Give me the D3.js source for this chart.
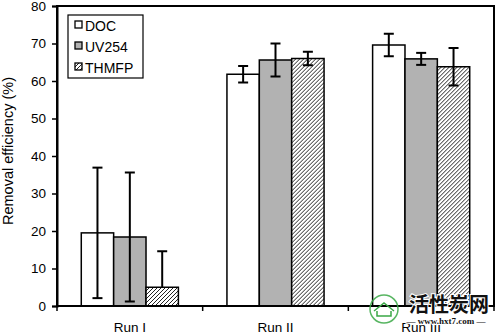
<!DOCTYPE html>
<html>
<head>
<meta charset="utf-8">
<script src="https://cdn.jsdelivr.net/npm/d3@7"></script>
<style>
  body { margin: 0; background: #fff; }
  svg { display: block; font-family: Arial, "Liberation Sans", sans-serif; }
</style>
</head>
<body>
<svg id="chart" width="497" height="333"></svg>
<script>
// Removal efficiency per run and parameter, with standard deviations
const runs = ["Run I", "Run II", "Run III"];
const series = ["DOC", "UV254", "THMFP"];
const docValues = [19.5, 61.8, 69.6];
const docErrors = [17.4, 2.2, 3.0];
const uvValues = [18.4, 65.6, 65.9];
const uvErrors = [17.2, 4.4, 1.6];
const thmfpValues = [5.0, 66.0, 63.8];
const thmfpErrors = [9.6, 1.8, 5.0];
const yTicks = [0, 10, 20, 30, 40, 50, 60, 70, 80];
const yTitle = "Removal efficiency (%)";

const values = [docValues, uvValues, thmfpValues];
const errors = [docErrors, uvErrors, thmfpErrors];

const svg = d3.select("#chart");
const m = { left: 57, right: 494, top: 6, bottom: 306 };

// hatch fill for THMFP
const defs = svg.append("defs");
const pat = defs.append("pattern")
  .attr("id", "hatch").attr("patternUnits", "userSpaceOnUse")
  .attr("width", 4).attr("height", 4);
pat.append("rect").attr("width", 4).attr("height", 4).attr("fill", "#fff");
pat.append("path").attr("d", "M-1,1 l2,-2 M0,4 l4,-4 M3,5 l2,-2")
  .attr("stroke", "#222").attr("stroke-width", 1);

const fills = ["#ffffff", "#b2b2b2", "url(#hatch)"];

const x0 = d3.scaleBand().domain(runs).range([m.left, m.right]).padding(0);
// the three bars fill two thirds of each run, centred
const bw = x0.bandwidth();
const x1 = d3.scaleBand().domain(series).range([bw / 6, bw * 5 / 6]).padding(0);
const y = d3.scaleLinear().domain([0, 80]).range([m.bottom, m.top]);

// plot frame
svg.append("rect")
  .attr("x", m.left).attr("y", m.top)
  .attr("width", m.right - m.left).attr("height", m.bottom - m.top)
  .attr("fill", "none").attr("stroke", "#000").attr("stroke-width", 2);

// bars
const groups = svg.append("g").selectAll("g").data(runs).join("g")
  .attr("transform", d => `translate(${x0(d)},0)`);

const cells = (r, i) => series.map((s, k) => ({ s, k, v: values[k][i], e: errors[k][i] }));

groups.selectAll("rect")
  .data(cells)
  .join("rect")
  .attr("x", d => x1(d.s)).attr("width", x1.bandwidth())
  .attr("y", d => y(d.v)).attr("height", d => y(0) - y(d.v))
  .attr("fill", d => fills[d.k])
  .attr("stroke", "#000").attr("stroke-width", 1.5);

// error bars (lower half omitted where it would fall below zero)
const eb = groups.selectAll("g.err")
  .data(cells)
  .join("g").attr("class", "err")
  .attr("transform", d => `translate(${x1(d.s) + x1.bandwidth() / 2},0)`)
  .attr("stroke", "#000").attr("stroke-width", 2);

eb.append("line")
  .attr("y1", d => y(d.v + d.e))
  .attr("y2", d => d.v - d.e < 0 ? y(d.v) : y(d.v - d.e));
eb.append("line").attr("x1", -5).attr("x2", 5)
  .attr("y1", d => y(d.v + d.e)).attr("y2", d => y(d.v + d.e));
eb.filter(d => d.v - d.e >= 0).append("line").attr("x1", -5).attr("x2", 5)
  .attr("y1", d => y(d.v - d.e)).attr("y2", d => y(d.v - d.e));

// y axis
const yAxis = svg.append("g").attr("transform", `translate(${m.left},0)`)
  .call(d3.axisLeft(y).tickValues(yTicks).tickSize(5).tickPadding(6));
yAxis.select(".domain").attr("stroke-width", 2);
yAxis.selectAll(".tick line").attr("stroke-width", 1.5);
yAxis.selectAll("text").attr("font-size", 13.5).attr("fill", "#000")
  .attr("font-family", "Arial, 'Liberation Sans', sans-serif");

// x axis: ticks on category boundaries, labels centred
const bounds = runs.map(r => x0(r)).concat([m.right]);
const xg = svg.append("g");
xg.append("line").attr("x1", m.left).attr("x2", m.right)
  .attr("y1", m.bottom).attr("y2", m.bottom)
  .attr("stroke", "#000").attr("stroke-width", 2);
xg.selectAll("line.tk").data(bounds).join("line").attr("class", "tk")
  .attr("x1", d => d).attr("x2", d => d)
  .attr("y1", m.bottom).attr("y2", m.bottom + 5)
  .attr("stroke", "#000").attr("stroke-width", 1.5);
xg.selectAll("text").data(runs).join("text")
  .attr("x", d => x0(d) + x0.bandwidth() / 2).attr("y", 331.5)
  .attr("text-anchor", "middle").attr("font-size", 13.5).text(d => d);

// y title
svg.append("text")
  .attr("transform", `translate(13,151) rotate(-90)`)
  .attr("text-anchor", "middle").attr("font-size", 14.5).text(yTitle);

// legend
const lg = svg.append("g");
lg.append("rect").attr("x", 68).attr("y", 15).attr("width", 75).attr("height", 63)
  .attr("fill", "#fff").attr("stroke", "#000").attr("stroke-width", 1.2);
const items = lg.selectAll("g.item").data(series).join("g").attr("class", "item")
  .attr("transform", (d, i) => `translate(75,${21 + i * 21})`);
items.append("rect").attr("width", 7).attr("height", 7)
  .attr("fill", (d, i) => fills[i]).attr("stroke", "#000").attr("stroke-width", 1.3);
items.append("text").attr("x", 10).attr("y", 9.5).attr("font-size", 14).text(d => d);

// site watermark
const wm = svg.append("g");
wm.append("circle").attr("cx", 384).attr("cy", 309).attr("r", 14)
  .attr("fill", "none").attr("stroke", "#3aa845").attr("stroke-width", 1.5).attr("opacity", 0.85);
wm.append("path").attr("d", "M374,311 l10,-8 l10,8 M377,311 v5 h14 v-5")
  .attr("fill", "none").attr("stroke", "#3aa845").attr("stroke-width", 1.5);
wm.append("text").attr("x", 409).attr("y", 312)
  .attr("font-family", "'Noto Sans CJK SC', sans-serif").attr("font-weight", "bold")
  .attr("font-size", 20).attr("fill", "#111")
  .attr("stroke", "#fff").attr("stroke-width", 2).attr("paint-order", "stroke")
  .text("活性炭网");
wm.append("text").attr("x", 446).attr("y", 324).attr("text-anchor", "middle")
  .attr("font-family", "'Liberation Serif', serif").attr("font-weight", "bold")
  .attr("font-size", 9).attr("fill", "#111")
  .attr("stroke", "#fff").attr("stroke-width", 2).attr("paint-order", "stroke")
  .text("— www.hxt7.com —");
</script>
</body>
</html>
